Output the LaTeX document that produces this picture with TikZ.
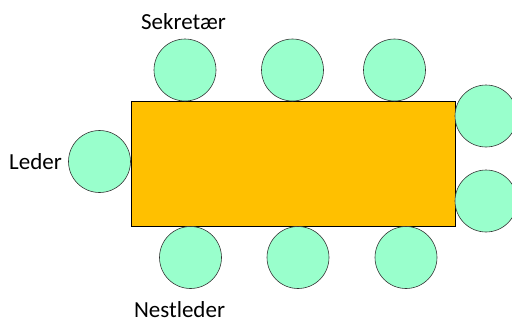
\documentclass[tikz,border=0pt]{standalone}
\usepackage{fontspec}
\setmainfont{Carlito}
\definecolor{seat}{HTML}{99FFCC}
\definecolor{tablec}{HTML}{FFC000}
\begin{document}
\begin{tikzpicture}[x=1pt,y=-1pt,
  seatc/.style={circle,draw=black!80,line width=0.6pt,fill=seat,minimum size=62pt,inner sep=0pt},
  lbl/.style={font=\fontsize{23}{25}\selectfont,inner sep=0pt}]
\useasboundingbox (0,0) rectangle (512,322);
\begin{scope}
\clip (0,0) rectangle (512,322);
\node[draw=black,line width=0.6pt,fill=tablec,minimum width=324pt,minimum height=125pt,inner sep=0pt] (table) at (293,163.5) {};
\node[seatc] (t1) at (185,70) {};
\node[seatc] (t2) at (292.5,70) {};
\node[seatc] (t3) at (394.5,70) {};
\node[seatc] (r1) at (486,116) {};
\node[seatc] (r2) at (486,201) {};
\node[seatc] (l1) at (99.5,161.5) {};
\node[seatc] (b1) at (190.5,257.5) {};
\node[seatc] (b2) at (298,257.5) {};
\node[seatc] (b3) at (406,257.5) {};
\end{scope}
\node[lbl,anchor=base] (sek) at (183.5,29) {Sekretær};
\node[lbl,anchor=base east] (led) at (62,169) {Leder};
\node[lbl,anchor=base] (nest) at (179.5,317.5) {Nestleder};
\end{tikzpicture}
\end{document}
